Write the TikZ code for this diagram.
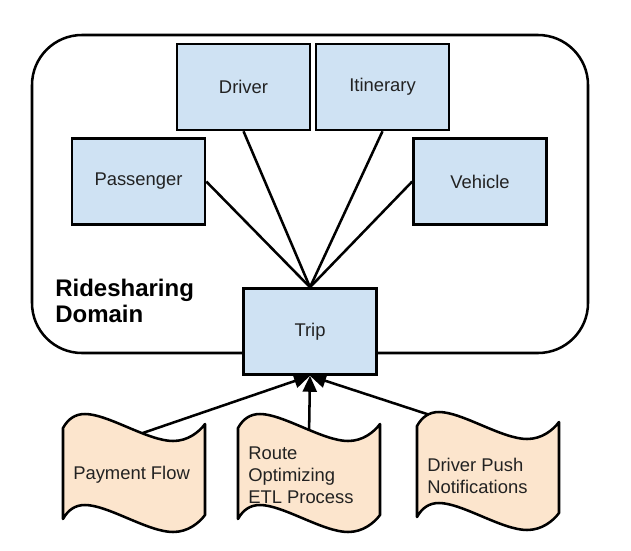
\documentclass[tikz,border=0pt]{standalone}
\usepackage{fontspec}
\setmainfont{Liberation Sans}
\usetikzlibrary{arrows.meta}
\definecolor{boxblue}{HTML}{CFE2F3}
\definecolor{docorange}{HTML}{FCE5CD}
\definecolor{inkgray}{HTML}{222222}
\begin{document}
\begin{tikzpicture}[x=0.75pt,y=-0.75pt,
  every node/.style={text=inkgray},
  entity/.style={draw=black, line width=1.9pt, fill=boxblue, minimum width=99.75pt,
    minimum height=64.5pt, inner sep=0pt, font=\fontsize{13.8pt}{16.5pt}\selectfont},
  link/.style={line width=1.9pt},
  flow/.style={line width=1.9pt, -{Triangle[length=12pt,width=10.5pt]}},
  doctext/.style={anchor=west, align=left, inner sep=0pt, font=\fontsize{13.8pt}{16.6pt}\selectfont},
  wavedoc/.pic={
    \path[draw=black, line width=1.9pt, fill=docorange, line join=round]
      (0,14) .. controls (5,5) and (12,0) .. (22,0)
      .. controls (45,0) and (85,27) .. (110,27)
      .. controls (125,27) and (136,18) .. (142,10)
      -- (142,101)
      .. controls (136,109) and (125,118) .. (110,118)
      .. controls (85,118) and (45,91) .. (22,91)
      .. controls (12,91) and (5,96) .. (0,105) -- cycle;
  }]
\useasboundingbox (0,0) rectangle (631,550);
% domain container
\node[draw=black, line width=1.9pt, rounded corners=37.5pt, minimum width=417pt,
  minimum height=238.5pt, inner sep=0pt] (domain) at (310,194) {};
\node[anchor=north west, align=left, inner sep=0pt,
  font=\fontsize{18pt}{19.5pt}\selectfont\bfseries, text=black] (domlabel) at (55,279) {Ridesharing\\Domain};
% entities
\node[entity] (driver) at (243.5,87) {Driver};
\node[entity] (itin) at (382.5,87) {Itinerary};
\node[entity] (pass) at (138.5,181.5) {Passenger};
\node[entity] (veh) at (480,181.5) {Vehicle};
\node[entity] (trip) at (310,331.5) {Trip};
% links
\draw[link] (pass.east) -- (trip.north);
\draw[link] (driver.south) -- (trip.north);
\draw[link] (itin.south) -- (trip.north);
\draw[link] (veh.west) -- (trip.north);
% arrows from the documents (starting inside them, hidden by their fill)
\coordinate (paytop) at (134,436);
\coordinate (routetop) at (309,436);
\coordinate (pushtop) at (488,434);
\draw[flow] (paytop) -- (trip.south);
\draw[flow] (routetop) -- (trip.south);
\draw[flow] (pushtop) -- (trip.south);
% documents
\pic (pay) at (63,414) {wavedoc};
\pic (route) at (238,414) {wavedoc};
\pic (push) at (417,412) {wavedoc};
\node[doctext] (paytext) at (73,475) {Payment Flow};
\node[doctext] (routetext) at (248,475) {Route\\Optimizing\\ETL Process};
\node[doctext] (pushtext) at (427,476) {Driver Push\\Notifications};
\end{tikzpicture}
\end{document}
